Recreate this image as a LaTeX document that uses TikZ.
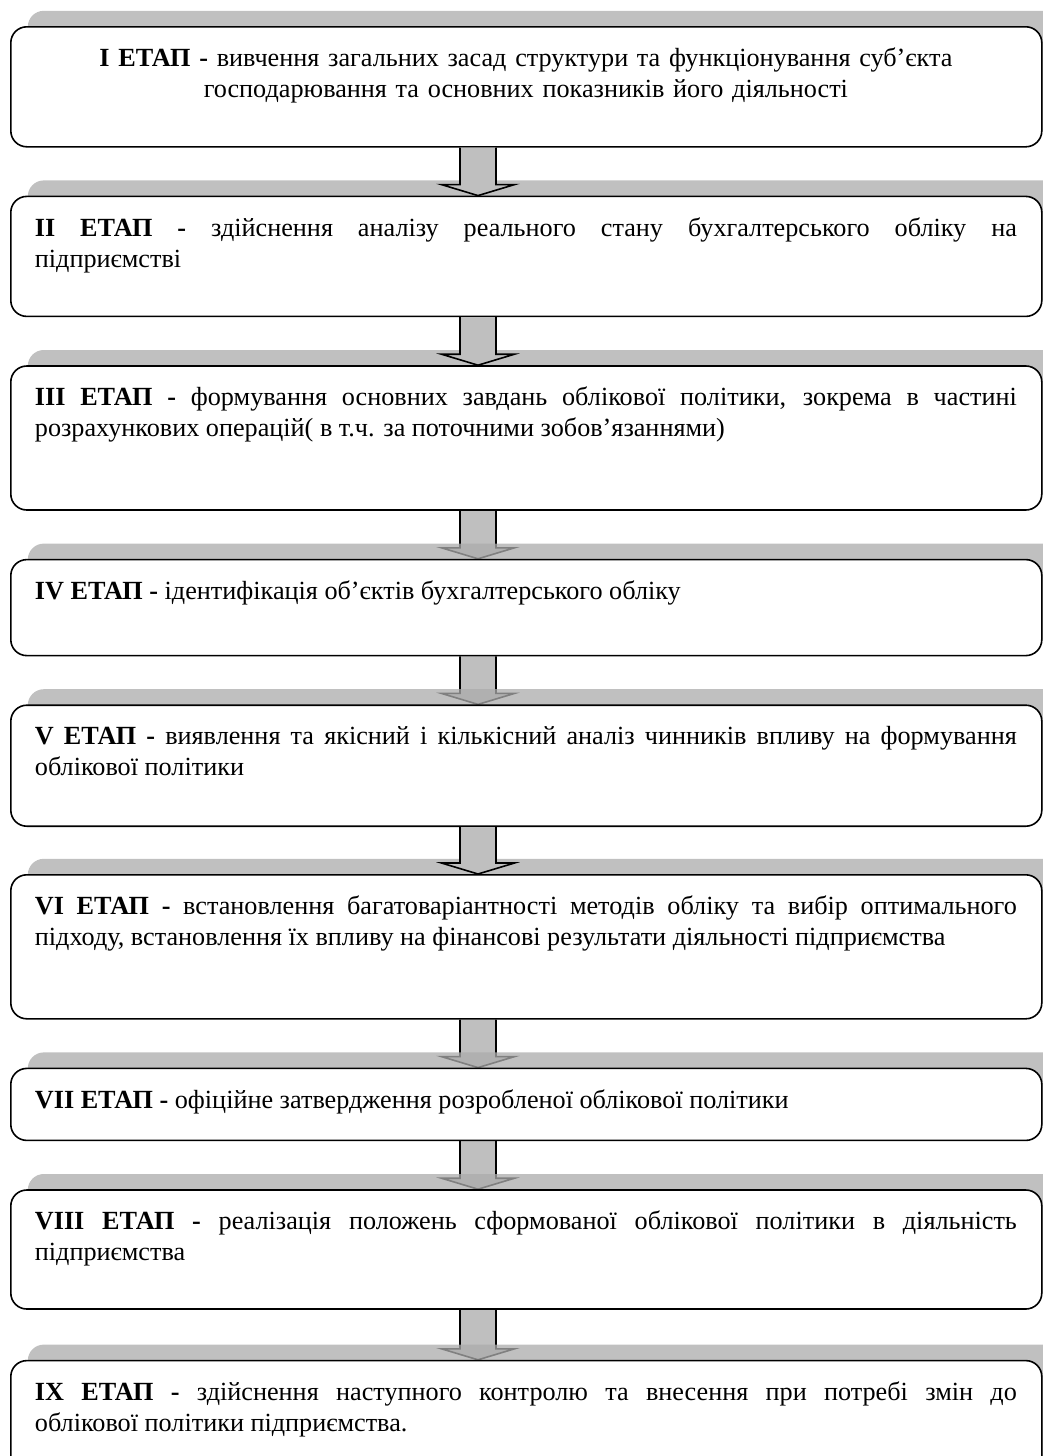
\documentclass[tikz,border=0pt]{standalone}
\usepackage{fontspec}
\setmainfont{Liberation Serif}
\usetikzlibrary{calc}
\usetikzlibrary{positioning}
\usetikzlibrary{shadows}
\pgfdeclarelayer{background}
\pgfsetlayers{background,main}

\begin{document}
\begin{tikzpicture}[-, node distance=24pt, font=\fontsize{13.1pt}{15.5pt}\selectfont]
  \tikzstyle{stagebox}=[draw=black, fill=white, line width=0.8pt, rounded corners=8pt, minimum width=515.5pt, inner sep=0pt,
                        general shadow={shadow xshift=8.5pt, shadow yshift=8pt, fill=black!33, opacity=0.75}]
  \tikzstyle{stagetext}=[text width=491pt, inner sep=0pt, align=justify, execute at begin node={\rule{0pt}{10pt}}]
  \tikzstyle{stagearrow}=[draw=black, fill=black!25, line width=0.8pt, line join=miter,
                          to path={($(\tikztostart.south -| axis)+(-9pt,0)$) -- ($(\tikztotarget.north -| axis)+(-9pt,5.5pt)$)
                                   -- ++(-9.25pt,0) -- (\tikztotarget.north -| axis) -- ++(18.25pt,5.5pt) -- ++(-9.25pt,0)
                                   -- ($(\tikztostart.south -| axis)+(9pt,0)$)}]
  \useasboundingbox (0,0) rectangle (521.5pt,-728pt);
  \coordinate (axis) at (239pt,0);

  % stages
  \node[stagebox, minimum height=60pt, anchor=north west] (s1) at (5pt,-13pt) {};
  \node[stagebox, minimum height=60pt, below=of s1] (s2) {};
  \node[stagebox, minimum height=72pt, below=of s2] (s3) {};
  \node[stagebox, minimum height=48pt, below=of s3] (s4) {};
  \node[stagebox, minimum height=60.5pt, below=of s4] (s5) {};
  \node[stagebox, minimum height=72pt, below=23.5pt of s5] (s6) {};
  \node[stagebox, minimum height=36pt, below=of s6] (s7) {};
  \node[stagebox, minimum height=59.5pt, below=of s7] (s8) {};
  \node[stagebox, minimum height=56.5pt, below=25pt of s8] (s9) {};

  % texts
  \node[stagetext, align=center, below right=10pt and 12.25pt of s1.north west] (t1)
       {\textbf{I ЕТАП -} вивчення загальних засад структури та функціонування суб’єкта\\ господарювання та основних показників його діяльності};
  \node[stagetext, below right=10pt and 12.25pt of s2.north west] (t2)
       {\textbf{II ЕТАП -} здійснення аналізу реального стану бухгалтерського обліку на\linebreak підприємстві};
  \node[stagetext, below right=10pt and 12.25pt of s3.north west] (t3)
       {\textbf{III ЕТАП -} формування основних завдань облікової політики, зокрема в частині\linebreak розрахункових операцій( в т.ч. за поточними зобов’язаннями)};
  \node[stagetext, below right=10pt and 12.25pt of s4.north west] (t4)
       {\textbf{IV ЕТАП -} ідентифікація об’єктів бухгалтерського обліку};
  \node[stagetext, below right=10pt and 12.25pt of s5.north west] (t5)
       {\textbf{V ЕТАП -} виявлення та якісний і кількісний аналіз чинників впливу на формування\linebreak облікової політики};
  \node[stagetext, below right=10pt and 12.25pt of s6.north west] (t6)
       {\textbf{VI ЕТАП -} встановлення багатоваріантності методів обліку та вибір оптимального\linebreak підходу, встановлення їх впливу на фінансові результати діяльності підприємства};
  \node[stagetext, below right=10pt and 12.25pt of s7.north west] (t7)
       {\textbf{VII ЕТАП -} офіційне затвердження розробленої облікової політики};
  \node[stagetext, below right=10pt and 12.25pt of s8.north west] (t8)
       {\textbf{VIII ЕТАП -} реалізація положень сформованої облікової політики в діяльність\linebreak підприємства};
  \node[stagetext, below right=10pt and 12.25pt of s9.north west] (t9)
       {\textbf{IX ЕТАП -} здійснення наступного контролю та внесення при потребі змін до\linebreak облікової політики підприємства.};

  % arrows
  \path (s1) edge[stagearrow] (s2)
        (s2) edge[stagearrow] (s3)
        (s5) edge[stagearrow] (s6);
  \begin{pgfonlayer}{background}
    \path (s3) edge[stagearrow] (s4)
          (s4) edge[stagearrow] (s5)
          (s6) edge[stagearrow] (s7)
          (s7) edge[stagearrow] (s8)
          (s8) edge[stagearrow] (s9);
  \end{pgfonlayer}
\end{tikzpicture}
\end{document}
